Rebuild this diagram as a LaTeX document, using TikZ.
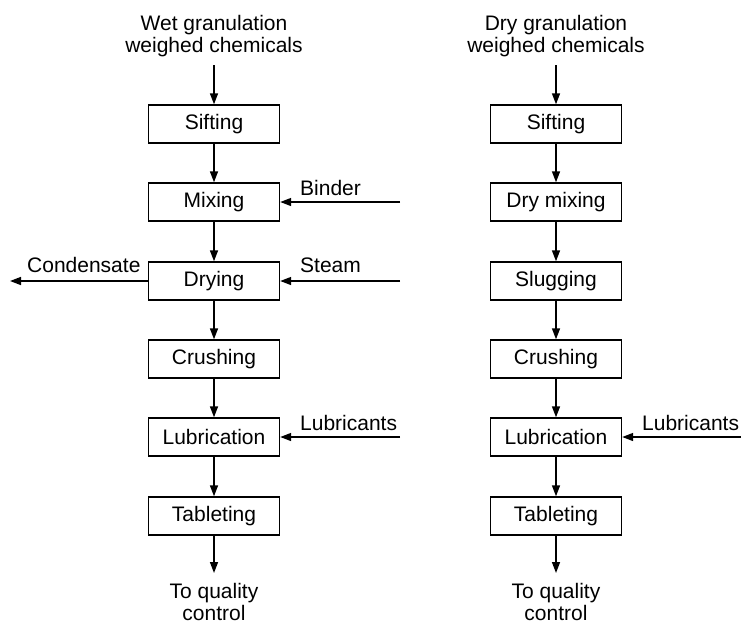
\documentclass[tikz,border=0pt]{standalone}
\usepackage{fontspec}
\setmainfont{Liberation Sans}
\usetikzlibrary{arrows.meta}
\begin{document}
\begin{tikzpicture}[x=1pt,y=-1pt,
  every node/.style={font=\fontsize{21}{22.5}\selectfont, inner sep=0pt},
  stepbox/.style={draw, line width=1.4pt, minimum width=131pt, minimum height=38pt},
  flow/.style={line width=1.5pt, -{Triangle[length=11pt,width=8pt]}},
  lbl/.style={anchor=base west},
  ttl/.style={anchor=north, align=center}]
\useasboundingbox (0,0) rectangle (741,624);
% left column
\node[ttl] (wt) at (214,15) {Wet granulation\\weighed chemicals};
\coordinate (wtin) at (214,65);
\node[stepbox] (ws) at (214,124) {Sifting};
\node[stepbox] (wm) at (214,202) {Mixing};
\node[stepbox] (wd) at (214,281) {Drying};
\node[stepbox] (wc) at (214,359) {Crushing};
\node[stepbox] (wl) at (214,437) {Lubrication};
\node[stepbox] (wtb) at (214,516) {Tableting};
\coordinate (wout) at (214,573);
\node[ttl] (wq) at (214,583) {To quality\\control};
\draw[flow] (wtin) -- (ws);
\draw[flow] (ws) -- (wm);
\draw[flow] (wm) -- (wd);
\draw[flow] (wd) -- (wc);
\draw[flow] (wc) -- (wl);
\draw[flow] (wl) -- (wtb);
\draw[flow] (wtb) -- (wout);
% side streams left
\coordinate (bin) at (400,202);
\coordinate (stin) at (400,281);
\coordinate (cout) at (10,281);
\coordinate (lin) at (400,437);
\draw[flow] (bin) -- (wm.east);
\draw[flow] (stin) -- (wd.east);
\draw[flow] (wd.west) -- (cout);
\draw[flow] (lin) -- (wl.east);
\node[lbl] (lb) at (300,195) {Binder};
\node[lbl] (lst) at (300,272) {Steam};
\node[lbl] (lco) at (27,272) {Condensate};
\node[lbl] (llu) at (300,430) {Lubricants};
% right column
\node[ttl] (dt) at (556,15) {Dry granulation\\weighed chemicals};
\coordinate (dtin) at (556,65);
\node[stepbox] (ds) at (556,124) {Sifting};
\node[stepbox] (dm) at (556,202) {Dry mixing};
\node[stepbox] (dsl) at (556,281) {Slugging};
\node[stepbox] (dc) at (556,359) {Crushing};
\node[stepbox] (dl) at (556,437) {Lubrication};
\node[stepbox] (dtb) at (556,516) {Tableting};
\coordinate (dout) at (556,573);
\node[ttl] (dq) at (556,583) {To quality\\control};
\draw[flow] (dtin) -- (ds);
\draw[flow] (ds) -- (dm);
\draw[flow] (dm) -- (dsl);
\draw[flow] (dsl) -- (dc);
\draw[flow] (dc) -- (dl);
\draw[flow] (dl) -- (dtb);
\draw[flow] (dtb) -- (dout);
\coordinate (dlin) at (741,437);
\draw[flow] (dlin) -- (dl.east);
\node[lbl] (dlu) at (642,430) {Lubricants};
\end{tikzpicture}
\end{document}
